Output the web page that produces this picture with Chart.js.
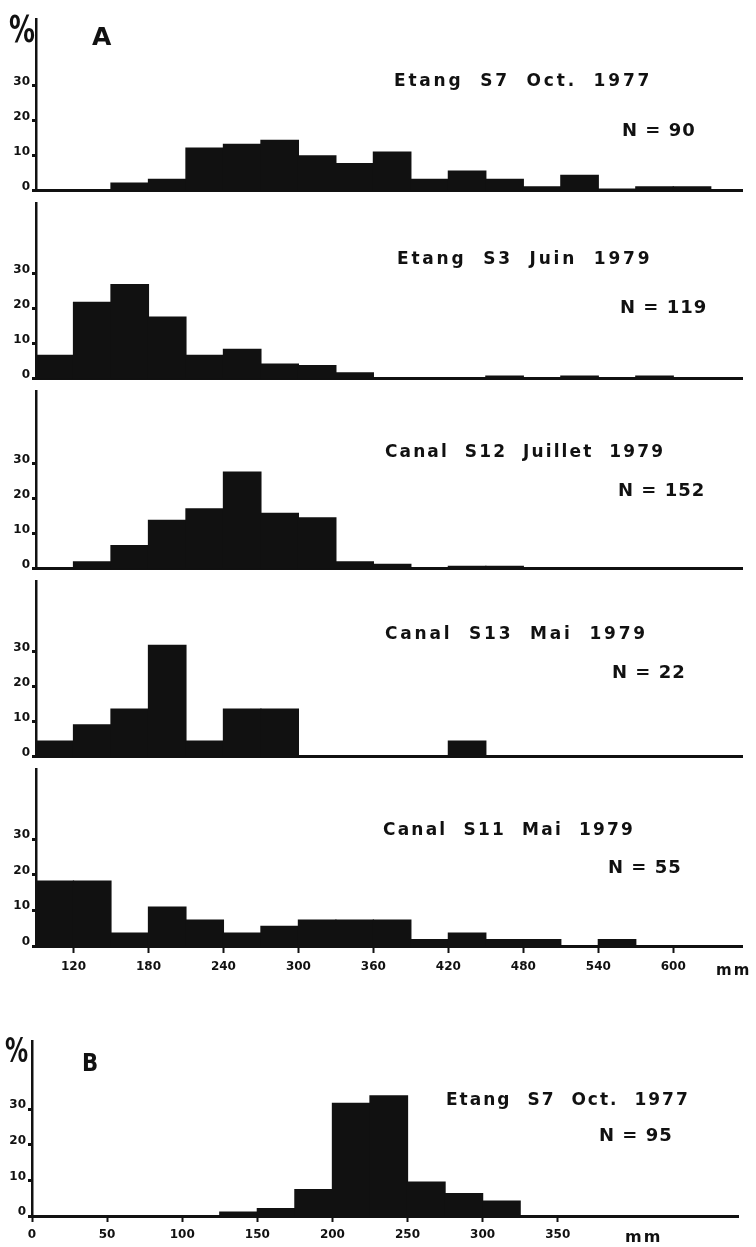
<!DOCTYPE html>
<html>
<head>
<meta charset="utf-8">
<script src="https://cdn.jsdelivr.net/npm/chart.js@4/dist/chart.umd.min.js"></script>
<style>
    html, body { margin: 0; padding: 0; background: #fff; }
    #page { position: relative; width: 756px; height: 1247px; overflow: hidden; background: #fff;
            font-family: "DejaVu Sans", sans-serif; font-weight: bold; color: #111; }
    #page canvas { position: absolute; left: 0; }
    .lbl { position: absolute; line-height: 1; white-space: nowrap; }
    .ttl { font-size: 17px; letter-spacing: 2.8px; word-spacing: 8px; }
    .n { font-size: 18px; letter-spacing: 1px; }
    .pct { transform: scaleX(0.7); transform-origin: left top; }
    .mm { letter-spacing: 2px; }
</style>
</head>
<body>
<div id="page">
    <canvas id="p1"></canvas>
    <canvas id="p2"></canvas>
    <canvas id="p3"></canvas>
    <canvas id="p4"></canvas>
    <canvas id="p5"></canvas>
    <canvas id="pB"></canvas>

    <div class="lbl pct" style="left:9px;top:11px;font-size:37px">%</div>
    <div class="lbl" style="left:92px;top:24px;font-size:25px">A</div>

    <div class="lbl ttl" style="left:394px;top:72px">Etang S7 Oct. 1977</div>
    <div class="lbl n" style="left:622px;top:121px">N = 90</div>
    <div class="lbl ttl" style="left:397px;top:250px">Etang S3 Juin 1979</div>
    <div class="lbl n" style="left:620px;top:298px">N = 119</div>
    <div class="lbl ttl" style="left:385px;top:443px;letter-spacing:2.1px">Canal S12 Juillet 1979</div>
    <div class="lbl n" style="left:618px;top:481px">N = 152</div>
    <div class="lbl ttl" style="left:385px;top:625px">Canal S13 Mai 1979</div>
    <div class="lbl n" style="left:612px;top:663px">N = 22</div>
    <div class="lbl ttl" style="left:383px;top:821px;letter-spacing:2.2px">Canal S11 Mai 1979</div>
    <div class="lbl n" style="left:608px;top:858px">N = 55</div>
    <div class="lbl mm" style="left:716px;top:963px;font-size:15px">mm</div>

    <div class="lbl pct" style="left:5px;top:1034px;font-size:33px">%</div>
    <div class="lbl" style="left:82px;top:1050px;font-size:25px;transform:scaleX(0.85);transform-origin:left top">B</div>
    <div class="lbl ttl" style="left:446px;top:1091px;letter-spacing:2.0px">Etang S7 Oct. 1977</div>
    <div class="lbl n" style="left:599px;top:1126px">N = 95</div>
    <div class="lbl mm" style="left:625px;top:1229px;font-size:16px">mm</div>
</div>

<script>
// classes de taille A : debut de chaque classe (mm), largeur 30 mm
var classesA = [90, 120, 150, 180, 210, 240, 270, 300, 330, 360, 390, 420, 450, 480, 510, 540, 570, 600, 630];
var largeurA = 30;

// frequences en % par classe
var etangS7_1977  = [0, 0, 2.2, 3.3, 12.2, 13.3, 14.4, 10, 7.8, 11.1, 3.3, 5.6, 3.3, 1.1, 4.4, 0.5, 1.1, 1.1, 0];
var etangS3_1979  = [6.7, 21.8, 26.9, 17.6, 6.7, 8.4, 4.2, 3.8, 1.7, 0, 0, 0, 0.8, 0, 0.8, 0, 0.8, 0, 0];
var canalS12_1979 = [0, 2.0, 6.6, 13.8, 17.1, 27.6, 15.8, 14.5, 2.0, 1.3, 0, 0.7, 0.7, 0, 0, 0, 0, 0, 0];
var canalS13_1979 = [4.5, 9.1, 13.6, 31.8, 4.5, 13.6, 13.6, 0, 0, 0, 0, 4.5, 0, 0, 0, 0, 0, 0, 0];
var canalS11_1979 = [18.2, 18.2, 3.6, 10.9, 7.3, 3.6, 5.5, 7.3, 7.3, 7.3, 1.8, 3.6, 1.8, 1.8, 0, 1.8, 0, 0, 0];
var ticksA = [120, 180, 240, 300, 360, 420, 480, 540, 600];

// B : classes de 25 mm
var classesB = [125, 150, 175, 200, 225, 250, 275, 300];
var largeurB = 25;
var etangS7_B = [1.1, 2.1, 7.4, 31.6, 33.7, 9.5, 6.3, 4.2];
var ticksB = [0, 50, 100, 150, 200, 250, 300, 350];

var ticksY = [0, 10, 20, 30];

// mise en page (pixels)
var PX_PAR_10 = 37.5;
var INK = '#111';

function histo(id, classes, largeur, valeurs, cfg) {
    var el = document.getElementById(id);
    el.width = 756;
    el.height = cfg.base - cfg.top + cfg.xHeight;
    el.style.top = cfg.top + 'px';
    var yMax = (cfg.base - cfg.top) / PX_PAR_10 * 10;
    var tickFont = { family: 'DejaVu Sans', weight: 'bold', size: 12 };

    new Chart(el, {
        type: 'bar',
        data: {
            datasets: [{
                data: classes.map(function(c, i) { return { x: c + largeur / 2, y: valeurs[i] }; }),
                backgroundColor: INK,
                borderWidth: 0,
                barPercentage: 1,
                categoryPercentage: 1,
                inflateAmount: 0.6
            }]
        },
        options: {
            responsive: false,
            animation: false,
            layout: { padding: { left: 0, right: 756 - cfg.right, top: 0, bottom: 0 } },
            plugins: { legend: { display: false }, tooltip: { enabled: false } },
            scales: {
                x: {
                    type: 'linear',
                    offset: false,
                    min: cfg.xMin,
                    max: cfg.xMax,
                    afterBuildTicks: function(s) { s.ticks = cfg.xTicks.map(function(v) { return { value: v }; }); },
                    afterFit: function(s) { s.height = cfg.xHeight; },
                    grid: { display: cfg.showX, offset: false, drawOnChartArea: false, tickLength: cfg.tickLen, tickWidth: 2, color: INK },
                    border: { display: true, color: INK, width: 3 },
                    ticks: {
                        display: cfg.showX,
                        autoSkip: false,
                        maxRotation: 0,
                        padding: cfg.xPad,
                        color: INK,
                        font: { family: 'DejaVu Sans', weight: 'bold', size: 12 }
                    }
                },
                y: {
                    min: 0,
                    max: yMax,
                    afterBuildTicks: function(s) { s.ticks = ticksY.map(function(v) { return { value: v }; }); },
                    afterFit: function(s) { s.width = cfg.axisX; },
                    grid: { drawOnChartArea: false, tickLength: 4, tickWidth: 3, color: INK },
                    border: { color: INK, width: 2.5 },
                    ticks: { padding: 2, labelOffset: -4, color: INK, font: tickFont }
                }
            }
        }
    });
}

var baseA = { axisX: 36, right: 742, xMin: 90, xMax: 655, xTicks: ticksA, xHeight: 6, showX: false, tickLen: 7, xPad: 7 };

histo('p1', classesA, largeurA, etangS7_1977,  Object.assign({}, baseA, { top: 10,  base: 194 }));
histo('p2', classesA, largeurA, etangS3_1979,  Object.assign({}, baseA, { top: 194, base: 382 }));
histo('p3', classesA, largeurA, canalS12_1979, Object.assign({}, baseA, { top: 382, base: 572 }));
histo('p4', classesA, largeurA, canalS13_1979, Object.assign({}, baseA, { top: 572, base: 760 }));
histo('p5', classesA, largeurA, canalS11_1979, Object.assign({}, baseA, { top: 760, base: 946, xHeight: 34, showX: true }));

histo('pB', classesB, largeurB, etangS7_B, {
    axisX: 32, right: 738, xMin: 0, xMax: 470, xTicks: ticksB,
    top: 1032, base: 1216, xHeight: 30, showX: true, tickLen: 6, xPad: 6
});
</script>
</body>
</html>
